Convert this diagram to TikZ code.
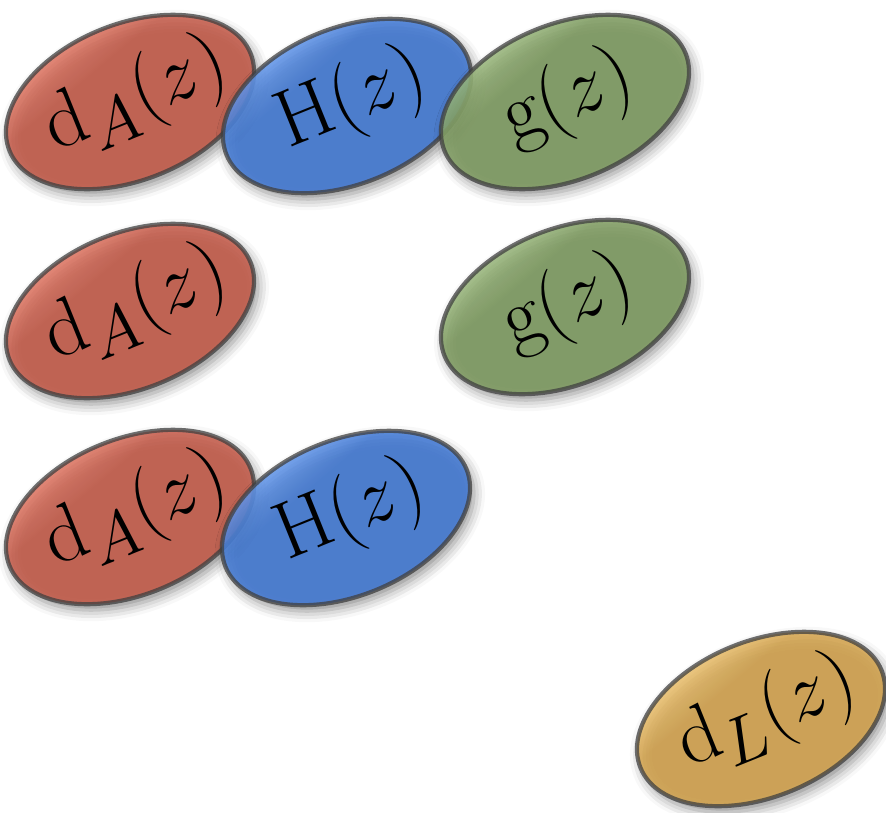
\documentclass[tikz,border=0pt]{standalone}
\usetikzlibrary{shadows.blur}
\definecolor{redM}{RGB}{200,92,74}
\definecolor{redL}{RGB}{240,135,115}
\definecolor{bluM}{RGB}{65,122,215}
\definecolor{bluL}{RGB}{120,170,250}
\definecolor{grnM}{RGB}{128,158,98}
\definecolor{grnL}{RGB}{170,200,140}
\definecolor{ylwM}{RGB}{215,166,78}
\definecolor{ylwL}{RGB}{250,210,130}
\pgfdeclareverticalshading{redsh}{100bp}{color(0bp)=(redM); color(60bp)=(redM); color(73bp)=(redL); color(100bp)=(redL)}
\pgfdeclareverticalshading{blush}{100bp}{color(0bp)=(bluM); color(60bp)=(bluM); color(73bp)=(bluL); color(100bp)=(bluL)}
\pgfdeclareverticalshading{grnsh}{100bp}{color(0bp)=(grnM); color(60bp)=(grnM); color(73bp)=(grnL); color(100bp)=(grnL)}
\pgfdeclareverticalshading{ylwsh}{100bp}{color(0bp)=(ylwM); color(60bp)=(ylwM); color(73bp)=(ylwL); color(100bp)=(ylwL)}
\tikzset{
  blob/.style={shade, shading=#1, shading angle=40, line width=4.2pt, draw=black!75, draw opacity=0.75, fill opacity=0.85,
    blur shadow={shadow xshift=4pt, shadow yshift=-6pt, shadow blur radius=11pt, shadow opacity=45}},
  lbl/.style={rotate=22, inner sep=0pt, text opacity=1},
}
\newcommand{\lbltxt}[1]{\scalebox{3.25}{\Huge$#1$}}
\begin{document}
\begin{tikzpicture}[x=1pt,y=1pt]
\useasboundingbox (0,0) rectangle (886,-812);
% row 1
\path[blob=redsh] (130,-102) circle [x radius=130, y radius=78, rotate=22];
\path[blob=blush] (347,-106) circle [x radius=130, y radius=78, rotate=22];
\path[blob=grnsh] (565,-102) circle [x radius=130, y radius=78, rotate=22];
% row 2
\path[blob=redsh] (130,-311) circle [x radius=130, y radius=78, rotate=22];
\path[blob=grnsh] (565,-307) circle [x radius=130, y radius=78, rotate=22];
% row 3
\path[blob=redsh] (130,-517) circle [x radius=130, y radius=78, rotate=22];
\path[blob=blush] (346,-518) circle [x radius=130, y radius=78, rotate=22];
% yellow
\path[blob=ylwsh] (761,-719) circle [x radius=130, y radius=78, rotate=22];
% labels
\node[lbl] (dA1) at (136,-97) {\lbltxt{\mathrm{d}_A(z)}};
\node[lbl] (H1) at (352,-101) {\lbltxt{\mathrm{H}(z)}};
\node[lbl] (g1) at (568,-99) {\lbltxt{\mathrm{g}(z)}};
\node[lbl] (dA2) at (136,-306) {\lbltxt{\mathrm{d}_A(z)}};
\node[lbl] (g2) at (568,-304) {\lbltxt{\mathrm{g}(z)}};
\node[lbl] (dA3) at (136,-512) {\lbltxt{\mathrm{d}_A(z)}};
\node[lbl] (H3) at (351,-513) {\lbltxt{\mathrm{H}(z)}};
\node[lbl] (dL) at (767,-714) {\lbltxt{\mathrm{d}_L(z)}};
\end{tikzpicture}
\end{document}
